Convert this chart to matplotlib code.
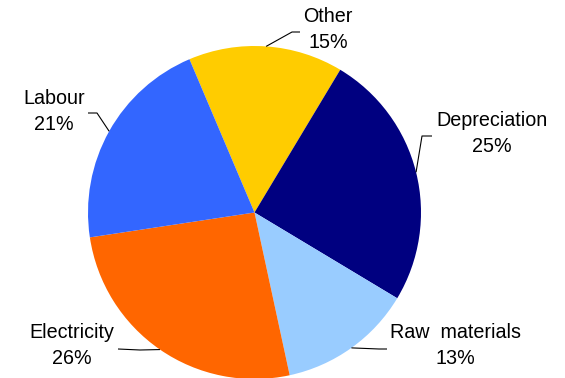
import numpy as np
import matplotlib
matplotlib.use('Agg')
from matplotlib import pyplot as plt

plt.rcParams['font.family'] = ['Liberation Sans', 'DejaVu Sans']

# Cost breakdown, clockwise from the top
categories = ['Other', 'Depreciation', 'Raw  materials', 'Electricity', 'Labour']
shares = [15, 25, 13, 26, 21]
colors = ['#FFCC00', '#000080', '#99CCFF', '#FF6600', '#3366FF']

W, H = 565, 378
fig = plt.figure(figsize=(W / 100, H / 100), dpi=100)
ax = fig.add_axes([0, 0, 1, 1])
ax.set_xlim(0, W)
ax.set_ylim(0, H)
ax.axis('off')

cx, cy, r = 254.5, H - 212.5, 166.5
start = 113
wedges, _ = ax.pie(shares, colors=colors, startangle=start, counterclock=False,
                   center=(cx, cy), radius=r, frame=True,
                   wedgeprops=dict(linewidth=0))
ax.set_xlim(0, W)
ax.set_ylim(0, H)
ax.set_aspect('equal')
ax.axis('off')

# label layout in pixel coords (from top-left): elbow, line end, text centre
layout = {
    'Other':          ((292, 32), (300, 32), (328, 16)),
    'Depreciation':   ((422, 136), (432, 136), (492, 120)),
    'Raw  materials': ((379, 349), (387, 349), (455, 333)),
    'Electricity':    ((140, 350), (118, 349), (72, 333)),
    'Labour':         ((97, 113), (88, 113), (54, 99)),
}

for w, name, val in zip(wedges, categories, shares):
    mid = np.deg2rad((w.theta1 + w.theta2) / 2)
    x0, y0 = cx + r * np.cos(mid), cy + r * np.sin(mid)
    (ex, ey), (lx, ly), (tx, ty) = layout[name]
    ax.plot([x0, ex, lx], [y0, H - ey, H - ly], color='black', lw=0.8,
            solid_capstyle='butt')
    ax.text(tx, H - ty, name, ha='center', va='center', fontsize=14.2)
    ax.text(tx, H - ty - 26, f'{val}%', ha='center', va='center', fontsize=14.2)

fig.savefig('out.png', dpi=100)
